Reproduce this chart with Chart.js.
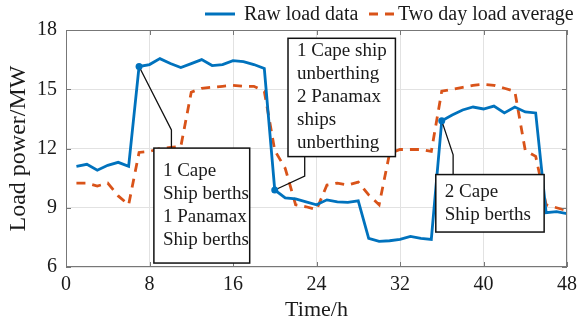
<!DOCTYPE html>
<html>
<head>
<meta charset="utf-8">
<script src="https://cdn.jsdelivr.net/npm/chart.js@4.4.0/dist/chart.umd.min.js"></script>
<style>
  html, body { margin: 0; padding: 0; background: #fff; }
</style>
</head>
<body>
<canvas id="load-chart" width="584" height="327"></canvas>
<script>
// hourly samples over two days
const hours = [1, 2, 3, 4, 5, 6, 7, 8, 9, 10, 11, 12, 13, 14, 15, 16, 17, 18, 19, 20, 21, 22, 23, 24,
  25, 26, 27, 28, 29, 30, 31, 32, 33, 34, 35, 36, 37, 38, 39, 40, 41, 42, 43, 44, 45, 46, 47, 48];
const rawLoad = [11.1, 11.2, 10.9, 11.15, 11.3, 11.1, 16.15, 16.25, 16.55, 16.3, 16.1, 16.3, 16.5, 16.2, 16.25, 16.45,
  16.4, 16.25, 16.05, 9.9, 9.5, 9.45, 9.3, 9.15, 9.4, 9.3, 9.27, 9.35, 7.45, 7.3, 7.33, 7.4,
  7.55, 7.45, 7.4, 13.4, 13.7, 13.95, 14.1, 14.0, 14.15, 13.8, 14.1, 13.85, 13.8, 8.75, 8.8, 8.7];
const avgLoad = [10.25, 10.25, 10.1, 10.25, 9.6, 9.15, 11.8, 11.85, 12.0, 12.05, 12.1, 14.85, 15.05, 15.1, 15.15, 15.2,
  15.15, 15.15, 14.9, 11.9, 11.0, 9.15, 9.05, 8.9, 10.15, 10.25, 10.15, 10.3, 9.65, 9.15, 11.75, 11.95,
  11.95, 11.95, 11.85, 14.9, 15.0, 15.1, 15.2, 15.25, 15.2, 15.05, 14.9, 11.9, 11.6, 9.15, 9.0, 8.85];
const xTicks = [0, 8, 16, 24, 32, 40, 48];
const yTicks = [6, 9, 12, 15, 18];
const seriesNames = ['Raw load data', 'Two day load average'];

// event notes, tied to points of the raw series
const noteHours = [7, 20, 36];
const noteTexts = [
  ['1 Cape', 'Ship berths', '1 Panamax', 'Ship berths'],
  ['1 Cape ship', 'unberthing', '2 Panamax', 'ships', 'unberthing'],
  ['2 Cape', 'Ship berths']
];
// box [left h, right h, top MW, bottom MW] and elbow [h, MW] of the leader line
const noteBoxes = [[8.42, 17.6, 12.02, 6.2], [21.27, 31.56, 17.58, 11.59], [35.43, 45.81, 10.68, 7.77]];
const noteElbows = [[10.1, 12.94], [22.87, 10.6], [37.09, 11.68]];

const BLUE = '#0072BD';
const ORANGE = '#D95319';
const SERIF = '"Liberation Serif", "Times New Roman", serif';

const points = vals => hours.map((h, i) => ({ x: h, y: vals[i] }));

const frameAndNotes = {
  id: 'frameAndNotes',
  afterDatasetsDraw(chart) {
    const { ctx, chartArea: a, scales: { x, y } } = chart;
    ctx.save();
    // axes box with inward ticks
    ctx.strokeStyle = '#777';
    ctx.lineWidth = 1;
    ctx.strokeRect(a.left + 0.5, a.top + 0.5, a.width - 1, a.height - 1);
    ctx.beginPath();
    xTicks.forEach(v => {
      const px = Math.round(x.getPixelForValue(v)) + 0.5;
      ctx.moveTo(px, a.top); ctx.lineTo(px, a.top + 5);
      ctx.moveTo(px, a.bottom); ctx.lineTo(px, a.bottom - 5);
    });
    yTicks.forEach(v => {
      const py = Math.round(y.getPixelForValue(v)) + 0.5;
      ctx.moveTo(a.left, py); ctx.lineTo(a.left + 5, py);
      ctx.moveTo(a.right, py); ctx.lineTo(a.right - 5, py);
    });
    ctx.stroke();

    noteHours.forEach((h, k) => {
      const i = hours.indexOf(h);
      const px = x.getPixelForValue(hours[i]);
      const py = y.getPixelForValue(rawLoad[i]);
      const ex = x.getPixelForValue(noteElbows[k][0]);
      const ey = y.getPixelForValue(noteElbows[k][1]);
      const l = x.getPixelForValue(noteBoxes[k][0]);
      const r = x.getPixelForValue(noteBoxes[k][1]);
      const t = y.getPixelForValue(noteBoxes[k][2]);
      const b = y.getPixelForValue(noteBoxes[k][3]);

      ctx.strokeStyle = '#111';
      ctx.lineWidth = 1.3;
      ctx.beginPath();
      ctx.moveTo(px, py);
      ctx.lineTo(ex, ey);
      ctx.lineTo(ex, ey > b ? b : t);
      ctx.stroke();

      ctx.fillStyle = '#fff';
      ctx.fillRect(l, t, r - l, b - t);
      ctx.lineWidth = 1.5;
      ctx.strokeRect(l, t, r - l, b - t);

      ctx.fillStyle = '#1a1a1a';
      ctx.font = '19px ' + SERIF;
      ctx.textBaseline = 'middle';
      ctx.textAlign = 'left';
      const lines = noteTexts[k];
      const lh = 23;
      const y0 = (t + b) / 2 - (lines.length - 1) * lh / 2;
      lines.forEach((s, j) => ctx.fillText(s, l + 9, y0 + j * lh));

      ctx.fillStyle = BLUE;
      ctx.beginPath();
      ctx.arc(px, py, 3.5, 0, Math.PI * 2);
      ctx.fill();
    });
    ctx.restore();
  },
  afterDraw(chart) {
    // legend across the top
    const { ctx } = chart;
    ctx.save();
    ctx.font = '20px ' + SERIF;
    ctx.textBaseline = 'middle';
    ctx.fillStyle = '#1a1a1a';
    ctx.lineWidth = 3;
    ctx.strokeStyle = BLUE;
    ctx.beginPath(); ctx.moveTo(205, 14); ctx.lineTo(235, 14); ctx.stroke();
    ctx.fillText(seriesNames[0], 244, 15);
    ctx.strokeStyle = ORANGE;
    ctx.setLineDash([9, 7]);
    ctx.beginPath(); ctx.moveTo(369, 14); ctx.lineTo(394, 14); ctx.stroke();
    ctx.setLineDash([]);
    ctx.fillText(seriesNames[1], 398, 15);
    ctx.restore();
  }
};

new Chart(document.getElementById('load-chart'), {
  type: 'line',
  data: {
    datasets: [
      {
        label: seriesNames[0],
        data: points(rawLoad),
        borderColor: BLUE,
        backgroundColor: BLUE,
        borderWidth: 2.8,
        pointRadius: 0,
        tension: 0
      },
      {
        label: seriesNames[1],
        data: points(avgLoad),
        borderColor: ORANGE,
        backgroundColor: ORANGE,
        borderWidth: 2.8,
        borderDash: [9, 7],
        pointRadius: 0,
        tension: 0
      }
    ]
  },
  options: {
    responsive: false,
    animation: false,
    layout: { padding: { top: 30, right: 17, left: 0, bottom: 0 } },
    plugins: { legend: { display: false }, tooltip: { enabled: false } },
    scales: {
      x: {
        type: 'linear',
        min: 0,
        max: 48,
        afterBuildTicks: s => { s.ticks = xTicks.map(v => ({ value: v })); },
        afterFit: s => { s.height = 60; },
        ticks: { color: '#1a1a1a', padding: 6, font: { family: SERIF, size: 20 } },
        grid: { color: '#e2e2e2', drawTicks: false },
        border: { display: false },
        title: {
          display: true, text: 'Time/h', color: '#1a1a1a',
          font: { family: SERIF, size: 22 }, padding: { top: 0, bottom: 4 }
        }
      },
      y: {
        min: 6,
        max: 18,
        afterBuildTicks: s => { s.ticks = yTicks.map(v => ({ value: v })); },
        afterFit: s => { s.width = 66; },
        ticks: { color: '#1a1a1a', padding: 9, font: { family: SERIF, size: 20 } },
        grid: { color: '#e2e2e2', drawTicks: false },
        border: { display: false },
        title: {
          display: true, text: 'Load power/MW', color: '#1a1a1a',
          font: { family: SERIF, size: 24 }, padding: { top: 4, bottom: 0 }
        }
      }
    }
  },
  plugins: [frameAndNotes]
});
</script>
</body>
</html>
